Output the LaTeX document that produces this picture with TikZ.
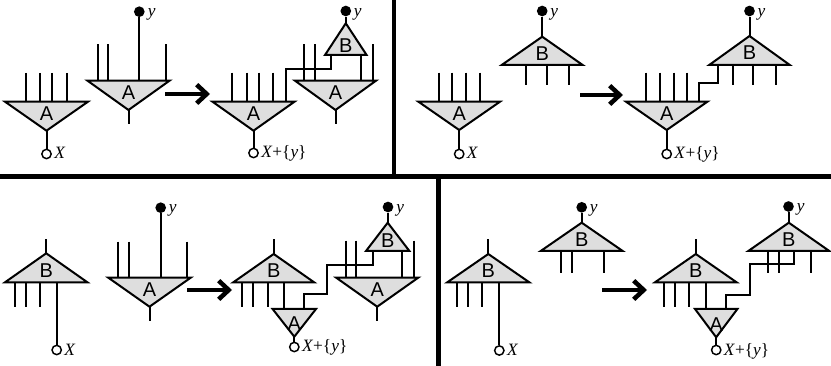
\documentclass[tikz,border=0pt]{standalone}
\usepackage{fontspec}
\setmainfont{Liberation Serif}
\newfontfamily\labfont{Liberation Sans}
\newfontfamily\txtfont{Liberation Serif}
\usetikzlibrary{arrows.meta}
\newcommand\Tri[7]{%
  \draw[tri] ({#2-#4},#3) -- ({#2+#4},#3) -- (#2,#5) -- cycle;
  \node[lab] (#1) at (#2,{#3+#6*(#5-#3)}) {#7};}
\begin{document}
\begin{tikzpicture}[x=0.75pt,y=-0.75pt,
 wire/.style={line width=1.5pt},
 tri/.style={draw, line width=1.5pt, fill=black!13, line join=miter},
 lab/.style={font=\labfont\fontsize{15}{15}\selectfont, inner sep=0},
 ocirc/.style={circle, draw, line width=1.1pt, fill=white, inner sep=0, minimum size=7pt},
 dotn/.style={circle, fill=black, inner sep=0, minimum size=8pt},
 txt/.style={font=\txtfont\fontsize{13}{13}\selectfont, inner sep=0, anchor=base west},
 sep/.style={line width=3.4pt},
 arr/.style={line width=3.4pt, -{Straight Barb[length=7.5pt,width=14pt]}}]
\useasboundingbox (0,0) rectangle (831,366);

% ===== Quadrant 1 =====
\foreach \x in {25.7,40,52.3,66.7} \draw[wire] (\x,73) -- (\x,101.7);
\Tri{a1}{46.5}{101.7}{41.5}{130.7}{0.42}{A}
\node[ocirc] (c1) at (46.5,154) {};
\draw[wire] (46.5,130.7) -- (c1);
\node[txt] (t1) at (54,159) {\textit{X}};

\foreach \x in {97.7,108.3,165.7} \draw[wire] (\x,44.3) -- (\x,80.7);
\node[dotn] (d1) at (139.3,11.7) {};
\draw[wire] (d1) -- (139.3,80.7);
\Tri{a2}{128.5}{80.7}{41}{110}{0.42}{A}
\draw[wire] (128.5,110) -- (128.5,124);
\node[txt] (t2) at (147.5,17) {\textit{y}};

\coordinate (r1s) at (165,94); \coordinate (r1e) at (210,94);
\draw[arr] (r1s) -- (r1e);

\foreach \x in {232.3,246.7,259.3,273.3} \draw[wire] (\x,72.7) -- (\x,101.7);
\draw[wire] (286,101.7) |- (331,69.3) -- (331,55);
\Tri{a3}{253.5}{101.7}{41}{130.7}{0.42}{A}
\node[ocirc] (c2) at (253.5,153) {};
\draw[wire] (253.5,130.7) -- (c2);
\node[txt] (t3) at (261,158) {\textit{X}+\{\textit{y}\}};

\foreach \x in {304.3,315,373.3} \draw[wire] (\x,44.3) -- (\x,80.7);
\draw[wire] (361,55) -- (361,80.7);
\Tri{a4}{335.5}{80.7}{40.5}{110}{0.42}{A}
\draw[wire] (335.5,110) -- (335.5,124);
\Tri{b1}{345.8}{55}{20.8}{23.3}{0.3}{B}
\node[dotn] (d2) at (345.8,11) {};
\draw[wire] (d2) -- (345.8,23.3);
\node[txt] (t4) at (353.5,16.5) {\textit{y}};

% ===== Quadrant 2 =====
\foreach \x in {439,452.3,466,480} \draw[wire] (\x,72.7) -- (\x,101.7);
\Tri{a5}{459.2}{101.7}{40.8}{130}{0.42}{A}
\node[ocirc] (c3) at (459.2,154) {};
\draw[wire] (459.2,130) -- (c3);
\node[txt] (t5) at (466.7,159) {\textit{X}};

\foreach \x in {525.7,546.7,569.3} \draw[wire] (\x,65) -- (\x,85);
\Tri{b2}{542.2}{65}{40.5}{36.7}{0.41}{B}
\node[dotn] (d3) at (542.2,11) {};
\draw[wire] (d3) -- (542.2,36.7);
\node[txt] (t6) at (550,16.5) {\textit{y}};

\coordinate (r2s) at (580,95); \coordinate (r2e) at (623,95);
\draw[arr] (r2s) -- (r2e);

\foreach \x in {645.7,660,674,687.3} \draw[wire] (\x,72.7) -- (\x,101.7);
\draw[wire] (699.3,101.7) |- (718.3,82.7) -- (718.3,65);
\Tri{a6}{666.7}{101.7}{40.7}{130}{0.42}{A}
\node[ocirc] (c4) at (666.7,154) {};
\draw[wire] (666.7,130) -- (c4);
\node[txt] (t7) at (674.2,159) {\textit{X}+\{\textit{y}\}};

\foreach \x in {732.7,753.3,775.7} \draw[wire] (\x,65) -- (\x,85);
\Tri{b3}{749.5}{65}{40.3}{36}{0.41}{B}
\node[dotn] (d4) at (749.5,11) {};
\draw[wire] (d4) -- (749.5,36);
\node[txt] (t8) at (757.3,16.5) {\textit{y}};

% ===== separators =====
\draw[sep] (0,176.5) -- (831,176.5);
\draw[sep] (394,0) -- (394,176.5);
\draw[sep] (438.7,176.5) -- (438.7,366);

% ===== Quadrant 3 =====
\foreach \x in {15,26,40} \draw[wire] (\x,282.3) -- (\x,306.7);
\node[ocirc] (c5) at (56.7,350) {};
\draw[wire] (56.7,282.3) -- (c5);
\Tri{b4}{46.2}{282.3}{41.2}{253.3}{0.41}{B}
\draw[wire] (46.2,253.3) -- (46.2,239);
\node[txt] (t9) at (64.2,355) {\textit{X}};

\foreach \x in {118.3,129,187.3} \draw[wire] (\x,241.7) -- (\x,277.7);
\node[dotn] (d5) at (160.7,207.7) {};
\draw[wire] (d5) -- (160.7,277.7);
\Tri{a7}{149.5}{277.7}{41.2}{306.7}{0.42}{A}
\draw[wire] (149.5,306.7) -- (149.5,321);
\node[txt] (t10) at (168.5,213) {\textit{y}};

\coordinate (r3s) at (187,290); \coordinate (r3e) at (232,290);
\draw[arr] (r3s) -- (r3e);

\foreach \x in {241.7,253.3,268.3} \draw[wire] (\x,282.3) -- (\x,306.7);
\draw[wire] (284.3,282.3) -- (284.3,309);
\Tri{b5}{273.7}{282.3}{40.4}{254}{0.41}{B}
\draw[wire] (273.7,254) -- (273.7,239);

\draw[wire] (304.3,309) |- (327,294.3) |- (373,265) -- (373,251);
\Tri{a8}{294.3}{309}{21.7}{336.7}{0.54}{A}
\node[ocirc] (c6) at (294.3,347) {};
\draw[wire] (294.3,336.7) -- (c6);
\node[txt] (t11) at (301.8,352) {\textit{X}+\{\textit{y}\}};

\foreach \x in {345.7,356,414.3} \draw[wire] (\x,240.7) -- (\x,277.7);
\draw[wire] (401.7,251) -- (401.7,277.7);
\Tri{a9}{377.2}{277.7}{41}{306.7}{0.42}{A}
\draw[wire] (377.2,306.7) -- (377.2,320.7);
\Tri{b6}{387.7}{251}{21.7}{222.7}{0.36}{B}
\node[dotn] (d6) at (388,207) {};
\draw[wire] (d6) -- (388,222.7);
\node[txt] (t12) at (396,212.5) {\textit{y}};

% ===== Quadrant 4 =====
\foreach \x in {457.3,468.3,482.3} \draw[wire] (\x,282.3) -- (\x,306.7);
\node[ocirc] (c7) at (499.3,350.5) {};
\draw[wire] (499.3,282.3) -- (c7);
\Tri{b7}{488.3}{282.3}{41}{254}{0.41}{B}
\draw[wire] (488.3,254) -- (488.3,239);
\node[txt] (t13) at (506.8,355.5) {\textit{X}};

\foreach \x in {561,571.7,604} \draw[wire] (\x,251) -- (\x,273.3);
\Tri{b8}{581.7}{251}{41}{222.7}{0.41}{B}
\node[dotn] (d7) at (581.7,207.3) {};
\draw[wire] (d7) -- (581.7,222.7);
\node[txt] (t14) at (589.5,213) {\textit{y}};

\coordinate (r4s) at (602,290); \coordinate (r4e) at (647,290);
\draw[arr] (r4s) -- (r4e);

\foreach \x in {664,675,689.3} \draw[wire] (\x,282.3) -- (\x,306.7);
\draw[wire] (706,282.3) -- (706,309);
\Tri{b9}{695.8}{282.3}{40.8}{254}{0.41}{B}
\draw[wire] (695.8,254) -- (695.8,239);

\draw[wire] (726,309) |- (750,295) |- (794,264.5) -- (794,251);
\Tri{a10}{716.2}{309}{21.2}{337.3}{0.54}{A}
\node[ocirc] (c8) at (716.2,350) {};
\draw[wire] (716.2,337.3) -- (c8);
\node[txt] (t15) at (723.7,355) {\textit{X}+\{\textit{y}\}};

\foreach \x in {767.7,779,811} \draw[wire] (\x,251) -- (\x,272.7);
\Tri{b10}{788.8}{251}{40.5}{222.7}{0.41}{B}
\node[dotn] (d8) at (788.5,206.5) {};
\draw[wire] (d8) -- (788.5,222.7);
\node[txt] (t16) at (796.5,212) {\textit{y}};
\end{tikzpicture}
\end{document}
